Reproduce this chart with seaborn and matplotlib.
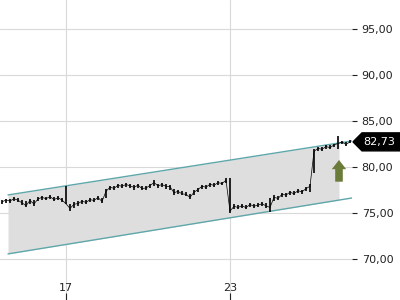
import matplotlib
matplotlib.use("Agg")
import numpy as np
import matplotlib.pyplot as plt
import seaborn as sns
from matplotlib.ticker import FuncFormatter
from matplotlib.patches import Polygon
from matplotlib.transforms import IdentityTransform

# ── data (one bar ~ every 4 px of the original chart) ─────────
close = [76.20, 76.42, 76.30, 76.55, 76.38, 76.10, 75.80, 76.35, 75.98, 76.52,
         76.70, 76.55, 76.78, 76.45, 76.66, 76.40, 76.00, 75.50, 75.95, 76.02,
         76.28, 76.15, 76.45, 76.36, 76.68, 76.25, 77.35, 77.80, 77.68, 78.00,
         77.90, 78.10, 77.95, 77.78, 78.02, 77.65, 77.72, 77.98, 78.30, 77.96,
         78.08, 77.90, 77.86, 77.20, 77.35, 77.08, 77.02, 76.70, 77.25, 77.55,
         77.90, 77.80, 78.12, 78.00, 78.30, 78.20, 78.55, 75.20, 75.72, 75.60,
         75.78, 75.58, 75.92, 75.74, 75.85, 76.00, 75.78, 75.60, 76.70, 76.58,
         77.02, 76.95, 77.25, 77.10, 77.42, 77.30, 77.65, 77.90, 81.70, 82.02,
         81.92, 82.22, 82.10, 82.40, 82.55, 82.70, 82.45, 82.73]
high = [76.40, 76.55, 76.50, 76.70, 76.60, 76.40, 76.25, 76.55, 76.40, 76.70,
        76.85, 76.75, 76.95, 76.70, 76.85, 76.65, 77.93, 76.00, 76.15, 76.25,
        76.45, 76.40, 76.60, 76.60, 76.85, 76.60, 77.60, 77.95, 77.95, 78.15,
        78.10, 78.25, 78.15, 78.00, 78.20, 77.90, 77.90, 78.20, 78.59, 78.20,
        78.25, 78.10, 78.05, 77.60, 77.55, 77.40, 77.25, 77.05, 77.45, 77.75,
        78.05, 78.00, 78.30, 78.25, 78.45, 78.40, 78.80, 78.80, 75.95, 75.90,
        75.95, 75.85, 76.10, 76.00, 76.05, 76.20, 76.05, 76.60, 76.90, 76.85,
        77.20, 77.15, 77.40, 77.35, 77.60, 77.50, 77.80, 78.15, 81.90, 82.20,
        82.15, 82.35, 82.35, 82.55, 83.37, 82.85, 82.70, 82.88]
low = [76.00, 76.10, 76.10, 76.30, 76.20, 75.90, 75.65, 76.00, 75.80, 76.25,
       76.45, 76.40, 76.50, 76.30, 76.40, 76.20, 75.98, 75.22, 75.55, 75.80,
       76.00, 75.95, 76.20, 76.15, 76.40, 76.05, 76.60, 77.45, 77.50, 77.70,
       77.70, 77.85, 77.75, 77.55, 77.75, 77.45, 77.50, 77.70, 77.90, 77.75,
       77.85, 77.65, 77.50, 77.00, 77.05, 76.90, 76.80, 76.55, 76.90, 77.30,
       77.60, 77.60, 77.85, 77.80, 78.05, 78.00, 78.25, 75.00, 75.45, 75.40,
       75.50, 75.40, 75.65, 75.55, 75.60, 75.75, 75.55, 75.15, 76.35, 76.40,
       76.75, 76.75, 77.00, 76.95, 77.15, 77.10, 77.35, 77.28, 79.30, 81.70,
       81.75, 82.00, 81.95, 82.20, 81.96, 82.45, 82.30, 82.60]

day_labels = ["17", "23"]
day_start = [16, 57]          # bar index where each labelled day opens

chan_x = [1.5, 87.5]
chan_upper = [76.96, 82.83]
chan_lower = [70.55, 76.63]
fill_end = 84.25              # grey band stops a little before the lines
last_price = 82.73

yticks = [70, 75, 80, 85, 90, 95]

# ── plot ──────────────────────────────────────────────────────
sns.set_style("white")
fig = plt.figure(figsize=(4, 3), dpi=100)
ax = fig.add_axes([0, 0, 0.88, 1])
ax.set_xlim(-0.5, 87.5)
ax.set_ylim(65.54, 98.15)

idx = np.arange(len(close))

# trend channel
fx = np.linspace(chan_x[0], fill_end, 50)
ax.fill_between(fx, np.interp(fx, chan_x, chan_lower), np.interp(fx, chan_x, chan_upper),
                color="#dedede", lw=0, zorder=1)
sns.lineplot(x=chan_x, y=chan_upper, ax=ax, color="#5fa7aa", lw=1, zorder=2)
sns.lineplot(x=chan_x, y=chan_lower, ax=ax, color="#5fa7aa", lw=1, zorder=2)

# price bars
sns.lineplot(x=idx, y=close, ax=ax, color="black", lw=0.5, zorder=3)
ax.vlines(idx, low, high, color="black", lw=1.2, zorder=3)

# buy arrow
ax.arrow(84.25, 78.40, 0, 2.36, width=1.9, head_width=3.6, head_length=1.0,
         length_includes_head=True, color="#6b7b3a", lw=0, zorder=4)

# axes styling
ax.set_yticks(yticks)
ax.yaxis.set_major_formatter(FuncFormatter(lambda v, p: f"{v:.2f}".replace(".", ",")))
ax.yaxis.tick_right()
ax.set_xticks(day_start)
ax.set_xticklabels(day_labels)
ax.grid(True, color="#d9d9d9", lw=0.8, zorder=0)
ax.set_axisbelow(True)
for s in ax.spines.values():
    s.set_visible(False)
ax.tick_params(axis="y", right=True, left=False, length=3.5, width=0.8, pad=3.5,
               labelsize=8, colors="#222222")
ax.tick_params(axis="x", bottom=True, direction="in", length=5, width=0.8, pad=-12,
               labelsize=8, colors="#222222")

# last price tag
x0, y0 = ax.transData.transform((87.5, last_price))
tag = Polygon([(x0 + 1, y0), (x0 + 10, y0 + 9), (400, y0 + 9), (400, y0 - 9), (x0 + 10, y0 - 9)],
              closed=True, color="black", transform=IdentityTransform(), clip_on=False)
fig.add_artist(tag)
fig.text(379, y0, f"{last_price:.2f}".replace(".", ","), color="white", fontsize=8,
         ha="center", va="center", transform=IdentityTransform())

fig.savefig("out.png", dpi=100)
